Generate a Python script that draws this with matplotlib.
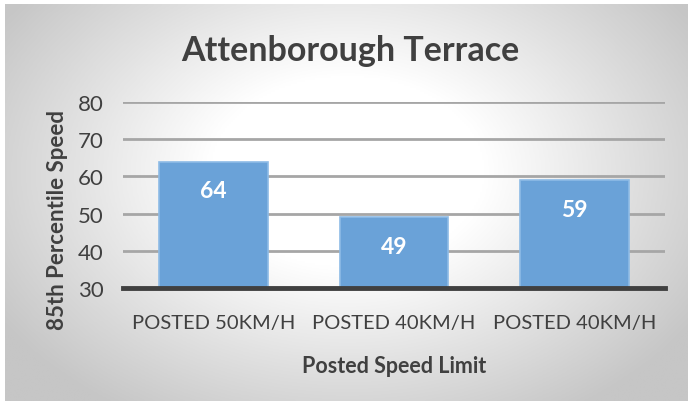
import numpy as np
import matplotlib.pyplot as plt
from matplotlib.colors import LinearSegmentedColormap

categories = ["POSTED 50KM/H", "POSTED 40KM/H", "POSTED 40KM/H"]
speeds = [64, 49, 59]
yticks = [30, 40, 50, 60, 70, 80]
title = "Attenborough Terrace"
xlabel = "Posted Speed Limit"
ylabel = "85th Percentile Speed"

plt.rcParams['font.family'] = ['Lato', 'DejaVu Sans']

W, H = 688, 402
fig = plt.figure(figsize=(W / 100, H / 100), dpi=100)
fig.patch.set_facecolor('white')

# background radial gradient
bg = fig.add_axes([5 / W, 0, 1 - 5 / W, 1 - 5 / H])
bg.set_axis_off()
ny, nx = 200, 340
yy, xx = np.mgrid[0:ny, 0:nx]
cx, cy = nx * 0.50, ny * 0.42
r = np.sqrt(((xx - cx) / (nx * 0.60)) ** 2 + ((yy - cy) / (ny * 0.72)) ** 2)
r = np.clip(r, 0, 1)
cmap = LinearSegmentedColormap.from_list('g', ['#ffffff', '#ffffff', '#e2e2e2', '#c6c6c6'], N=256)
bg.imshow(r, cmap=cmap, aspect='auto', extent=[0, 1, 0, 1], vmin=0, vmax=1, interpolation='bilinear')
bg.set_xlim(0, 1)
bg.set_ylim(0, 1)

ax = fig.add_axes([123 / W, 1 - 289 / H, (665 - 123) / W, (289 - 103) / H])
ax.set_facecolor('none')
x = np.arange(len(categories))
bars = ax.bar(x, [s - 30 for s in speeds], bottom=30, width=0.6, color='#6aa2d8',
              edgecolor='#8dbbe6', linewidth=1.2, zorder=3)
ax.set_xlim(-0.5, len(categories) - 0.5)
ax.set_ylim(30, 80)
ax.set_yticks(yticks)
ax.yaxis.grid(True, color='#a6a6a6', linewidth=2.0, zorder=0)
ax.set_axisbelow(True)
for s in ['top', 'right', 'left']:
    ax.spines[s].set_visible(False)
ax.spines['bottom'].set_color('#404040')
ax.spines['bottom'].set_linewidth(3.5)
ax.spines['bottom'].set_zorder(4)
ax.tick_params(axis='both', length=0, colors='#404040')
ax.tick_params(axis='y', pad=14, labelsize=16)
ax.tick_params(axis='x', pad=19, labelsize=14.5)
ax.set_xticks(x)
ax.set_xticklabels(categories)

for xi, s in zip(x, speeds):
    ax.annotate(str(s), (xi, s), xytext=(0, -29), textcoords='offset pixels',
                ha='center', va='center', color='white', fontsize=16.5, fontweight='bold', zorder=5)

ax.set_xlabel(xlabel, fontsize=15.5, fontweight='bold', color='#404040', labelpad=17)
fig.text(58 / W, 1 - 220 / H, ylabel, rotation=90, ha='center', va='center',
         fontsize=16, fontweight='bold', color='#404040')
fig.text(350 / W, 1 - 51 / H, title, ha='center', va='center', fontsize=24.5,
         fontweight='bold', color='#404040')

fig.savefig('out.png', dpi=100)
